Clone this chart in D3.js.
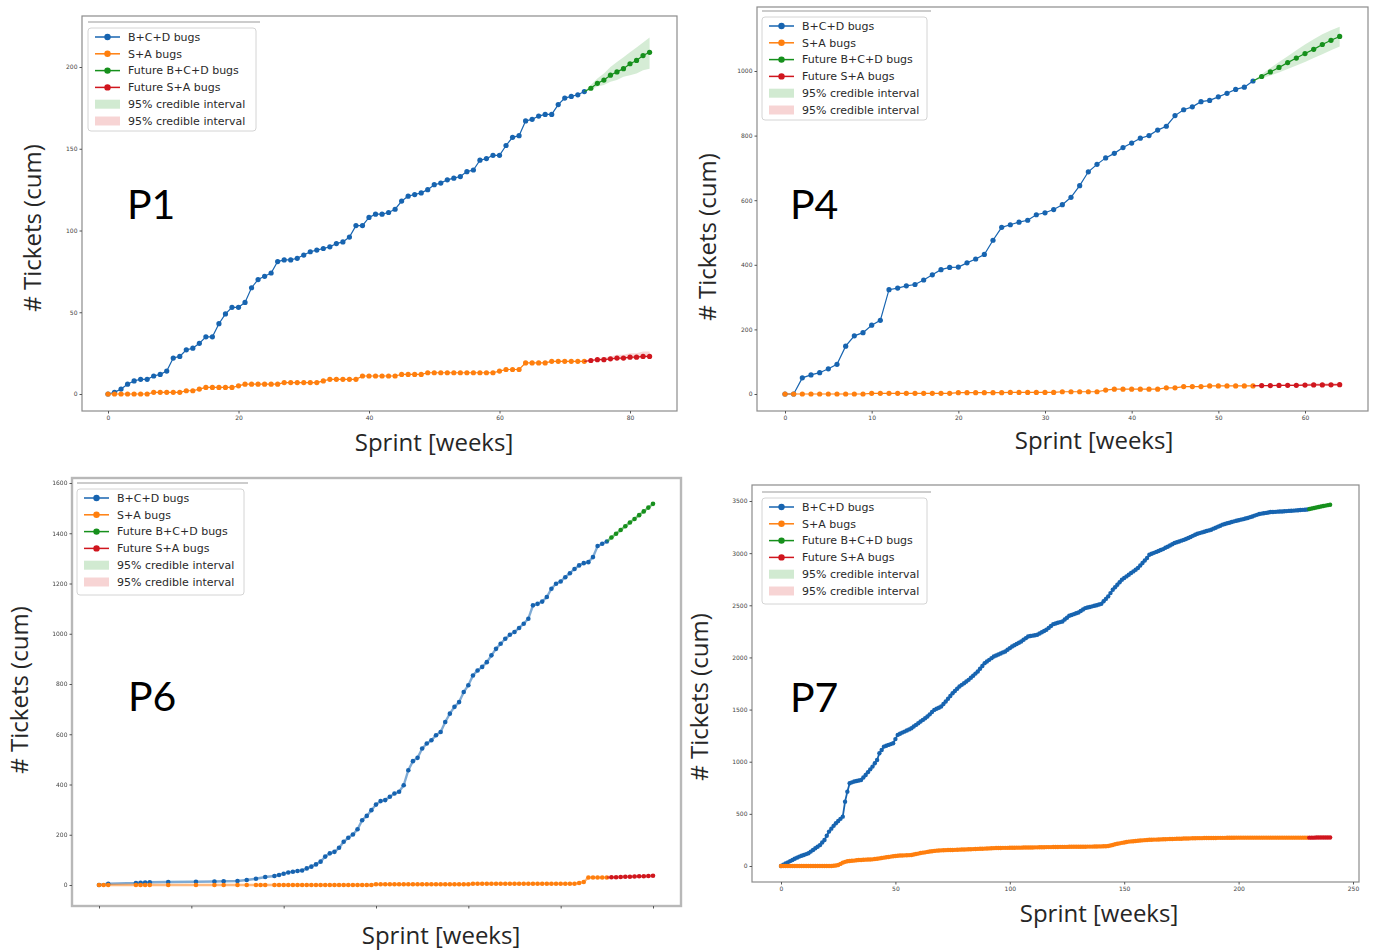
<!DOCTYPE html>
<html>
<head>
<meta charset="utf-8">
<script src="https://cdn.jsdelivr.net/npm/d3@7"></script>
<style>
  body { margin: 0; background: #fff; }
  svg { display: block; }
</style>
</head>
<body>
<svg id="chart" width="1373" height="952"></svg>
<script>
// ---- data (cumulative tickets per sprint week) ----
const legendLabels = ["B+C+D bugs", "S+A bugs", "Future B+C+D bugs", "Future S+A bugs", "95% credible interval", "95% credible interval"];

// P1
const p1Blue = [0,1,3,6,8,9,9,11,12,14, 22,23,27,28,31,35,35,43,49,53, 53,56,65,70,72,74,81,82,82,83,
  85,87,88,89,90,92,93,96,103,103, 108,110,110,111,113,118,121,122,123,125, 128,129,131,132,133,136,137,143,144,146,
  146,152,157,158,167,168,170,171,171,177, 181,182,183,185];
const p1Orange = [0,0,0,0,0,0,0,1,1,1, 1,1,2,2,3,4,4,4,4,4, 5,6,6,6,6,6,6,7,7,7, 7,7,7,8,9,9,9,9,9,11,
  11,11,11,11,11,12,12,12,12,13, 13,13,13,13,13,13,13,13,13,13, 14,15,15,15,19,19,19,19,20,20, 20,20,20,20];
const p1Green = [185,187,190,192,195,197,199,202,204,207,209];
const p1GreenHi = [185,189,193,196,200,203,206,209,212,215,218];
const p1GreenLo = [185,186,188,189,191,192,194,195,196,198,199];
const p1Red = [20,20.5,21,21,21.5,22,22,22.5,22.5,23,23];
const p1RedHi = [20,21,22,22.5,23,24,24,25,25,26,26];
const p1RedLo = [20,20,20.5,20.5,21,21,21,21.5,21.5,22,22];

// P4
const p4Blue = [0,0,50,59,66,78,92,148,180,190, 213,228,323,328,335,339,353,369,385,392,
  393,406,418,432,476,516,524,532,538,555, 561,571,586,609,645,688,711,731,745,763,
  777,792,800,817,829,862,880,889,905,909, 920,931,943,950,969];
const p4Orange = [0,0,0,0,0,0,0,0,0,0, 2,2,2,2,2,2,2,2,2,2, 4,4,4,4,4,4,5,5,5,5,
  5,5,7,7,7,7,7,12,15,15, 15,15,15,15,19,19,23,23,23,25, 25,25,25,25,25];
const p4Green = [969,983,997,1011,1026,1040,1054,1067,1082,1095,1107];
const p4GreenHi = [969,990,1009,1028,1046,1064,1082,1098,1114,1126,1137];
const p4GreenLo = [969,977,986,995,1006,1017,1028,1040,1052,1064,1076];
const p4Red = [25,26,26,26.5,27,27,27.5,28,28,28.5,29];
const p4RedHi = [25,27,28,29,30,31,32,33,33,34,35];
const p4RedLo = [25,25,25,25,25,25,25,25,25,25,25];

// P6 (sparse weeks at the start)
const p6BlueHeadWeeks = [0,2,8,9,10,11,15,21,25,27,30,32,34,36];
const p6BlueHead = [0,5,8,9,10,11,12,13,14,15,16,20,25,32];
const p6OrangeHeadWeeks = [0,1,2,8,9,10,11,15,21,25,27,30,32,34,35,36];
const p6OrangeHead = [0,0,0,0,0,0,0,0,0,0,0,0,0,0,0,0];
const p6Blue = [36,40,45,50,53,56,58,66,73,82, 93,113,126,132,148,172,188,201,222,258,
  275,298,320,334,338,351,364,371,397,457, 493,506,543,563,576,596,609,649,682,709,
  728,768,795,834,854,868,887,914,940,960, 980,996,1007,1023,1040,1060,1113,1119,1128,1146,
  1179,1199,1208,1225,1241,1258,1272,1281,1285,1305, 1349,1358,1367];
const p6Orange = [0,0,0,0,0,0,0,0,0,0, 0,0,0,0,0,0,0,0,0,0, 0,0,3,3,3,3,3,3,3,3,
  3,3,3,3,3,3,3,3,3,3, 3,3,3,5,5,5,5,5,5,5, 5,5,5,5,5,5,5,5,5,5,
  5,5,5,5,5,5,8,12,30,30, 30,30,30];
const p6Green = [1367,1383,1398,1413,1428,1443,1457,1472,1487,1502,1517];
const p6Red = [30,31,31,32,33,33,34,35,35,36,37];

// P7
const p7Blue = [0,12,24,35,47,58,69,80,90,98, 106,114,122,138,154,170,185,200,225,250,
  290,330,358,385,410,432,452,473,617,713, 793,802,810,815,820,825,848,873,900,927,
  953,985,1017,1081,1113,1145,1153,1161,1169,1177, 1217,1257,1268,1279,1289,1300,1310,1321,1337,1353,
  1369,1385,1401,1417,1433,1454,1476,1497,1508,1518, 1529,1553,1577,1604,1630,1657,1678,1700,1721,1737,
  1753,1769,1785,1805,1825,1845,1865,1892,1918,1945, 1961,1977,1993,2009,2019,2028,2038,2048,2057,2073,
  2089,2105,2117,2129,2141,2153,2169,2185,2201,2205, 2209,2213,2217,2229,2241,2253,2265,2283,2301,2319,
  2326,2332,2339,2345,2363,2381,2399,2407,2415,2423, 2431,2445,2459,2473,2479,2484,2490,2495,2501,2508,
  2514,2538,2561,2585,2617,2649,2673,2697,2721,2745, 2761,2777,2793,2809,2825,2841,2857,2881,2905,2929,
  2953,2985,2994,3003,3012,3021,3030,3039,3051,3062, 3074,3085,3097,3105,3112,3120,3127,3135,3145,3155,
  3166,3176,3186,3192,3199,3205,3212,3218,3225,3235, 3244,3254,3263,3273,3279,3286,3292,3299,3305,3310,
  3316,3321,3326,3332,3337,3345,3352,3360,3367,3375, 3379,3383,3386,3390,3394,3395,3396,3398,3399,3400,
  3402,3403,3405,3407,3408,3410,3412,3413,3415,3416, 3418];
const p7Orange = [0,0,0,0,0,0,0,0,0,0, 0,0,0,0,0,0,0,0,0,0,
  0,0,0,2,5,10,20,32,40,45, 48,50,52,55,57,58,60,61,62,63,
  64,67,70,73,77,80,84,87,90,93, 96,98,100,101,102,103,104,106,110,115,
  119,124,128,131,135,139,142,145,147,149, 150,151,152,153,153,154,155,156,157,158,
  158,159,160,161,162,163,164,165,166,167, 168,169,170,171,172,173,173,174,174,174,
  175,175,175,176,176,176,177,177,178,178, 178,179,179,180,180,180,181,181,181,182,
  182,182,183,183,183,183,184,184,184,184, 185,185,185,185,186,186,186,187,187,188,
  188,189,190,192,196,202,208,213,217,222, 226,230,234,236,238,240,242,244,246,248,
  250,251,252,253,253,254,255,256,257,258, 259,259,260,261,261,262,263,263,264,265,
  266,266,267,267,267,268,268,268,269,269, 269,270,270,270,270,271,271,271,271,272,
  272,272,272,272,272,272,272,272,272,272, 272,272,272,272,272,272,272,272,272,272,
  272,272,272,272,272,272,272,272,272,272, 272];
const p7Green = [3418,3423,3428,3433,3438,3442,3447,3452,3456,3460,3464];
const p7Red = [272,272,272,272,273,273,273,273,273,274,274];

// tick values
const p1XTicks = [0, 20, 40, 60, 80], p1YTicks = [0, 50, 100, 150, 200];
const p4XTicks = [0, 10, 20, 30, 40, 50, 60], p4YTicks = [0, 200, 400, 600, 800, 1000];
const p6XTicks = [0, 20, 40, 60, 80, 100, 120], p6YTicks = [0, 200, 400, 600, 800, 1000, 1200, 1400, 1600];
const p7XTicks = [0, 50, 100, 150, 200, 250], p7YTicks = [0, 500, 1000, 1500, 2000, 2500, 3000, 3500];

// ---- styling ----
const C = { blue: "#1764b0", orange: "#ff7f0e", green: "#16901c", red: "#d0161e",
  greenBand: "rgba(44,160,44,0.2)", redBand: "rgba(214,39,40,0.18)" };

const svg = d3.select("#chart");
svg.append("defs").append("filter").attr("id", "soft")
  .append("feGaussianBlur").attr("stdDeviation", 0.7);

const weeksFrom = (start, arr) => arr.map((_, i) => start + i);

const panels = [
  { label: "P1", frame: [82, 16, 677, 411], xr: [108, 630], xd: [0, 80], yr: [394, 67], yd: [0, 200],
    xTicks: p1XTicks, yTicks: p1YTicks, xLabels: true, r: 2.6, lw: 1.2,
    series: [
      { w: weeksFrom(0, p1Blue), v: p1Blue, c: C.blue },
      { w: weeksFrom(0, p1Orange), v: p1Orange, c: C.orange },
      { w: weeksFrom(73, p1Green), v: p1Green, c: C.green, skipFirst: true },
      { w: weeksFrom(73, p1Red), v: p1Red, c: C.red, skipFirst: true }],
    bands: [
      { w: weeksFrom(73, p1GreenHi), hi: p1GreenHi, lo: p1GreenLo, c: C.greenBand },
      { w: weeksFrom(73, p1RedHi), hi: p1RedHi, lo: p1RedLo, c: C.redBand }],
    legend: [88, 28, 168, 103], tag: [127, 219],
    yTitle: [33, 228], xTitle: [434, 451] },
  { label: "P4", frame: [757, 7, 1368, 411], xr: [785, 1305], xd: [0, 60], yr: [394, 71], yd: [0, 1000],
    xTicks: p4XTicks, yTicks: p4YTicks, xLabels: true, r: 2.6, lw: 1.2,
    series: [
      { w: weeksFrom(0, p4Blue), v: p4Blue, c: C.blue },
      { w: weeksFrom(0, p4Orange), v: p4Orange, c: C.orange },
      { w: weeksFrom(54, p4Green), v: p4Green, c: C.green, skipFirst: true },
      { w: weeksFrom(54, p4Red), v: p4Red, c: C.red, skipFirst: true }],
    bands: [
      { w: weeksFrom(54, p4GreenHi), hi: p4GreenHi, lo: p4GreenLo, c: C.greenBand },
      { w: weeksFrom(54, p4RedHi), hi: p4RedHi, lo: p4RedLo, c: C.redBand }],
    legend: [762, 17, 165, 103], tag: [790, 219],
    yTitle: [708, 237], xTitle: [1094, 449] },
  { label: "P6", frame: [72, 478, 681, 906], xr: [99, 653], xd: [0, 120], yr: [885, 483], yd: [0, 1600],
    xTicks: p6XTicks, yTicks: p6YTicks, xLabels: false, r: 2.3, lw: 2.4, blur: true,
    series: [
      { w: p6BlueHeadWeeks.concat(weeksFrom(38, p6Blue)), v: p6BlueHead.concat(p6Blue), c: C.blue },
      { w: p6OrangeHeadWeeks.concat(weeksFrom(38, p6Orange)), v: p6OrangeHead.concat(p6Orange), c: C.orange },
      { w: weeksFrom(110, p6Green), v: p6Green, c: C.green, skipFirst: true },
      { w: weeksFrom(110, p6Red), v: p6Red, c: C.red, skipFirst: true }],
    bands: [],
    legend: [77, 489, 167, 106], tag: [128, 711],
    yTitle: [20, 690], xTitle: [441, 944] },
  { label: "P7", frame: [752, 485, 1359, 882], xr: [781, 1353], xd: [0, 250], yr: [866, 501], yd: [0, 3500],
    xTicks: p7XTicks, yTicks: p7YTicks, xLabels: true, r: 2.2, lw: 1.8,
    series: [
      { w: weeksFrom(0, p7Blue), v: p7Blue, c: C.blue },
      { w: weeksFrom(0, p7Orange), v: p7Orange, c: C.orange },
      { w: weeksFrom(230, p7Green), v: p7Green, c: C.green, skipFirst: true },
      { w: weeksFrom(230, p7Red), v: p7Red, c: C.red, skipFirst: true }],
    bands: [],
    legend: [762, 498, 165, 106], tag: [790, 712],
    yTitle: [700, 697], xTitle: [1099, 922] }
];

function drawPanel(p) {
  const g = svg.append("g");
  const plot = g.append("g");
  if (p.blur) plot.attr("filter", "url(#soft)");
  const x = d3.scaleLinear().domain(p.xd).range(p.xr);
  const y = d3.scaleLinear().domain(p.yd).range(p.yr);
  const [l, t, r, b] = p.frame;

  // credible-interval bands
  p.bands.forEach((bd) => {
    const pts = bd.w.map((w, i) => ({ w, hi: bd.hi[i], lo: bd.lo[i] }));
    plot.append("path").datum(pts)
      .attr("d", d3.area().x((d) => x(d.w)).y0((d) => y(d.lo)).y1((d) => y(d.hi)))
      .attr("fill", bd.c);
  });

  // lines with markers
  p.series.forEach((s) => {
    const pts = s.w.map((w, i) => ({ w, v: s.v[i] }));
    plot.append("path").datum(pts)
      .attr("d", d3.line().x((d) => x(d.w)).y((d) => y(d.v)))
      .attr("fill", "none").attr("stroke", s.c).attr("stroke-width", p.lw)
      .attr("stroke-opacity", p.blur ? 0.55 : 1);
    plot.append("g").selectAll("circle")
      .data(s.skipFirst ? pts.slice(1) : pts)
      .join("circle")
      .attr("cx", (d) => x(d.w)).attr("cy", (d) => y(d.v))
      .attr("r", p.r).attr("fill", s.c);
  });

  // spines
  plot.append("rect").attr("x", l).attr("y", t).attr("width", r - l).attr("height", b - t)
    .attr("fill", "none").attr("stroke", p.blur ? "#b8b8b8" : "#8c8c8c")
    .attr("stroke-width", p.blur ? 2.4 : 1.2);

  // axes
  const yAxis = plot.append("g").attr("transform", `translate(${l},0)`)
    .call(d3.axisLeft(y).tickValues(p.yTicks).tickSize(2.5).tickPadding(2).tickFormat(d3.format("d")));
  const xAxis = plot.append("g").attr("transform", `translate(0,${b})`)
    .call(d3.axisBottom(x).tickValues(p.xTicks).tickSize(2.5).tickPadding(2)
      .tickFormat(p.xLabels ? d3.format("d") : () => ""));
  [yAxis, xAxis].forEach((ax) => {
    ax.select(".domain").remove();
    ax.selectAll(".tick line").attr("stroke", "#555");
    ax.selectAll(".tick text").attr("fill", "#444")
      .attr("font-family", "DejaVu Sans").attr("font-size", "6px");
  });

  // legend
  const [lx, ly, lw, lh] = p.legend;
  const lg = g.append("g");
  lg.append("line").attr("x1", lx).attr("x2", lx + lw + 4).attr("y1", ly - 6).attr("y2", ly - 6)
    .attr("stroke", "#999").attr("stroke-width", 1);
  lg.append("rect").attr("x", lx).attr("y", ly).attr("width", lw).attr("height", lh)
    .attr("rx", 3).attr("fill", "#fff").attr("stroke", "#d4d4d4");
  const handleColors = [C.blue, C.orange, C.green, C.red];
  const bandColors = ["rgba(44,160,44,0.22)", "rgba(214,39,40,0.2)"];
  legendLabels.forEach((txt, i) => {
    const cy = ly + 9 + i * 16.8;
    if (i < 4) {
      lg.append("line").attr("x1", lx + 7).attr("x2", lx + 32).attr("y1", cy).attr("y2", cy)
        .attr("stroke", handleColors[i]).attr("stroke-width", 1.5);
      lg.append("circle").attr("cx", lx + 19.5).attr("cy", cy).attr("r", 3.2).attr("fill", handleColors[i]);
    } else {
      lg.append("rect").attr("x", lx + 7).attr("y", cy - 4.5).attr("width", 25).attr("height", 9)
        .attr("fill", bandColors[i - 4]);
    }
    lg.append("text").attr("x", lx + 40).attr("y", cy).attr("dy", "0.35em")
      .attr("font-family", "DejaVu Sans").attr("font-size", "11px").attr("fill", "#2a2a2a")
      .text(txt);
  });

  // panel tag and axis titles
  g.append("text").attr("x", p.tag[0]).attr("y", p.tag[1])
    .attr("font-family", "Lato").attr("font-size", "41px").attr("fill", "#000").text(p.label);
  g.append("text").attr("transform", `translate(${p.yTitle[0]},${p.yTitle[1]}) rotate(-90)`)
    .attr("text-anchor", "middle").attr("dy", "0.35em")
    .attr("font-family", "Open Sans").attr("font-size", "24px").attr("fill", "#262626")
    .text("# Tickets (cum)");
  g.append("text").attr("x", p.xTitle[0]).attr("y", p.xTitle[1]).attr("text-anchor", "middle")
    .attr("font-family", "Open Sans").attr("font-size", "24px").attr("fill", "#262626")
    .text("Sprint [weeks]");
}

panels.forEach(drawPanel);
</script>
</body>
</html>
